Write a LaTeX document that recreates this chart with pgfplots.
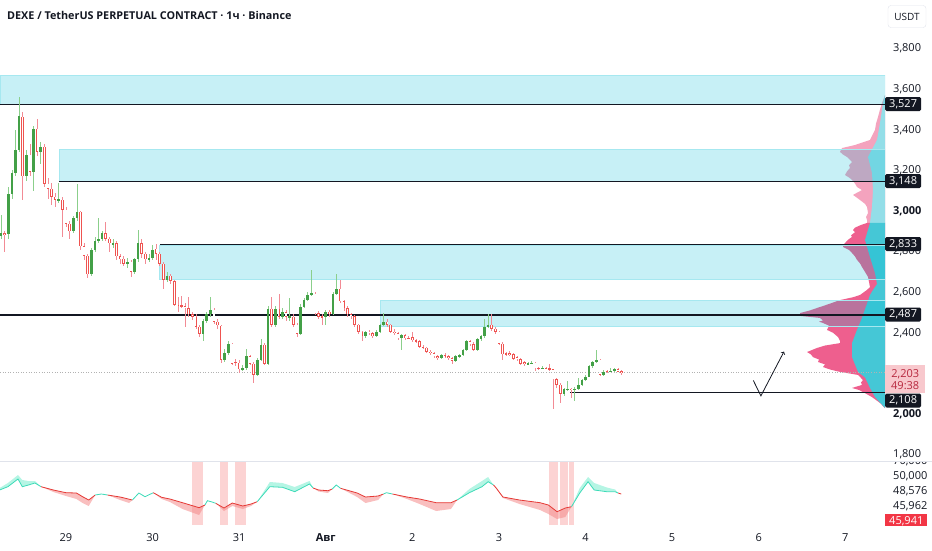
\documentclass[border=0pt]{standalone}
\usepackage{fontspec}
\setmainfont{Open Sans}
\usepackage{pgfplots}
\pgfplotsset{compat=1.18}
\usepackage{pgfplotstable}
\definecolor{tvtext}{HTML}{131722}
\definecolor{tvgreen}{HTML}{43A047}
\definecolor{tvgreenwick}{HTML}{8BCF8B}
\definecolor{tvred}{HTML}{EF5350}
\definecolor{tvredwick}{HTML}{F28B95}
\definecolor{boxcyan}{HTML}{00BCD4}
\definecolor{vpPink}{HTML}{EE5F8E}
\definecolor{vpPinkL}{HTML}{F4A3BE}
\definecolor{vpCyan}{HTML}{45C7D6}
\definecolor{vpCyanL}{HTML}{93DEE8}
\definecolor{indRed}{HTML}{E53935}
\definecolor{indRedFill}{HTML}{F48A8A}
\definecolor{indTeal}{HTML}{3DDBB8}
\definecolor{indTealFill}{HTML}{B5F5E4}
\definecolor{bandPink}{HTML}{FCD3D3}
\definecolor{curPink}{HTML}{F8C8CD}
\definecolor{curText}{HTML}{B7283E}
\definecolor{redlabel}{HTML}{F23645}
\definecolor{sepgray}{HTML}{E0E3EB}

\pgfplotstableread{
t o h l c
-18 2875 2980 2860 2890
-17 2892 2900 2800 2885
-16 2885 3120 2860 3085
-15 3085 3200 3060 3185
-14 3185 3400 3170 3302
-13 3302 3563 3290 3470
-12 3465 3490 3056 3170
-11 3170 3300 3150 3278
-10 3278 3330 3170 3194
-9 3194 3420 3096 3406
-8 3406 3455 3270 3293
-7 3293 3340 3230 3316
-6 3317 3330 3120 3135
-5 3135 3160 3060 3110
-4 3110 3140 3030 3071
-3 3071 3090 3020 3056
-2 3050 3140 3040 3060
-1 3056 3070 2874 3007
0 3007 3020 2920 2938
1 2938 2950 2860 2899
2 2899 2975 2890 2963
3 2963 3135 2950 2997
4 2997 3000 2810 2825
5 2825 2840 2760 2780
6 2780 2790 2670 2687
7 2687 2820 2680 2810
8 2810 2870 2800 2850
9 2850 2963 2840 2864
10 2864 2900 2850 2889
11 2889 2945 2850 2864
12 2864 2870 2800 2840
13 2835 2860 2820 2842
14 2840 2850 2760 2776
15 2776 2790 2740 2765
16 2765 2780 2730 2741
17 2741 2770 2720 2751
18 2751 2760 2675 2701
19 2701 2770 2690 2761
20 2761 2908 2750 2840
21 2840 2860 2770 2790
22 2790 2800 2740 2761
23 2761 2790 2750 2770
24 2770 2830 2760 2810
25 2815 2835 2760 2790
26 2790 2800 2730 2741
27 2741 2750 2618 2662
28 2662 2700 2650 2682
29 2682 2690 2640 2655
30 2655 2660 2530 2539
31 2539 2578 2500 2530
32 2535 2580 2520 2530
33 2530 2545 2430 2522
34 2522 2578 2480 2490
35 2490 2500 2465 2480
36 2480 2490 2420 2430
37 2430 2440 2380 2396
38 2396 2470 2360 2460
39 2460 2500 2450 2490
40 2490 2578 2480 2514
41 2514 2520 2445 2455
42 2455 2470 2420 2436
43 2435 2440 2250 2268
44 2268 2320 2255 2300
45 2300 2360 2290 2347
46 2347 2350 2240 2248
47 2258 2270 2235 2252
48 2252 2265 2200 2219
49 2219 2240 2210 2224
50 2224 2320 2215 2283
51 2283 2290 2240 2248
52 2248 2255 2150 2194
53 2194 2275 2185 2268
54 2268 2370 2260 2342
55 2342 2350 2240 2248
56 2248 2530 2240 2519
57 2519 2578 2430 2440
58 2440 2530 2430 2519
59 2519 2593 2470 2480
60 2480 2520 2470 2500
61 2500 2510 2460 2480
62 2475 2570 2460 2482
63 2480 2490 2430 2440
64 2440 2450 2380 2396
65 2396 2540 2390 2529
66 2529 2570 2520 2563
67 2563 2600 2555 2588
68 2588 2711 2580 2595
69 2593 2600 2485 2495
70 2495 2505 2470 2480
71 2482 2490 2440 2478
72 2478 2510 2440 2504
73 2504 2510 2480 2490
74 2490 2600 2485 2593
75 2593 2687 2585 2618
76 2618 2662 2545 2554
77 2554 2560 2505 2520
78 2520 2530 2480 2490
79 2490 2495 2470 2482
80 2482 2485 2430 2440
81 2440 2445 2395 2406
82 2406 2410 2360 2382
83 2382 2410 2375 2406
84 2406 2415 2390 2398
85 2398 2405 2375 2382
86 2382 2412 2378 2406
87 2406 2445 2400 2440
88 2440 2495 2435 2455
89 2455 2470 2430 2440
90 2440 2445 2400 2406
91 2406 2420 2390 2398
92 2398 2402 2365 2372
93 2372 2395 2317 2388
94 2388 2392 2365 2372
95 2375 2385 2368 2372
96 2378 2405 2355 2362
97 2362 2368 2350 2357
98 2360 2365 2325 2332
99 2332 2340 2318 2327
100 2327 2332 2300 2307
101 2307 2315 2292 2300
102 2300 2305 2278 2283
103 2283 2290 2265 2275
104 2275 2296 2270 2290
105 2290 2300 2278 2283
106 2283 2288 2268 2275
107 2275 2280 2245 2263
108 2263 2288 2258 2283
109 2283 2296 2278 2290
110 2290 2322 2285 2317
111 2317 2362 2310 2357
112 2357 2365 2335 2345
113 2345 2352 2310 2317
114 2317 2372 2312 2367
115 2367 2390 2360 2382
116 2382 2470 2375 2430
117 2430 2490 2425 2440
118 2440 2490 2410 2420
119 2420 2428 2395 2405
120 2405 2410 2340 2347
121 2347 2352 2268 2293
122 2298 2305 2285 2293
123 2298 2310 2285 2290
124 2293 2298 2265 2273
125 2280 2285 2262 2270
126 2270 2275 2242 2248
127 2255 2260 2238 2245
128 2245 2258 2240 2250
129 2250 2262 2245 2252
130 2252 2256 2210 2224
131 2228 2232 2218 2224
132 2224 2235 2220 2228
133 2228 2232 2220 2224
134 2224 2245 2214 2219
135 2219 2222 2022 2170
136 2170 2175 2130 2145
137 2145 2150 2052 2100
138 2100 2130 2090 2125
139 2122 2160 2115 2125
140 2125 2130 2080 2117
141 2117 2135 2065 2125
142 2125 2175 2120 2145
143 2145 2170 2140 2165
144 2165 2190 2160 2184
145 2184 2240 2180 2234
146 2234 2262 2228 2258
147 2258 2317 2252 2266
148 2268 2272 2185 2194
149 2194 2215 2188 2209
150 2212 2218 2200 2209
151 2209 2225 2205 2214
152 2214 2228 2208 2220
153 2220 2225 2205 2209
154 2212 2215 2194 2203
}\candles

\begin{document}
\begin{tikzpicture}[x=1pt,y=1pt]
\useasboundingbox (0pt,0pt) rectangle (932pt,-550pt);

% ---------- volume profile ----------
\begin{axis}[at={(0pt,-460pt)}, anchor=south west, scale only axis,
  width=885pt, height=460pt, xmin=0, xmax=885, x dir=reverse,
  ymin=1773, ymax=4039.4, hide axis]
\addplot[fill=vpPinkL, draw=none] coordinates {(0,3571)(3,3532)(5,3500)(7,3463)(9,3430)(10,3399)(13,3370)(15,3350)(30,3325)(43,3310)(45,3291)(42,3278)(38,3266)(35,3252)(33,3241)(36,3225)(35,3212)(38,3195)(40,3177)(36,3165)(33,3153)(30,3135)(28,3118)(23,3103)(28,3090)(32,3079)(28,3065)(25,3054)(20,3035)(18,3020)(17,2990)(19,2970)(18,2956)(18,2941)(0,2941)} -- cycle;
\addplot[fill=vpPink, draw=none] coordinates {(0,2941)(18,2941)(24,2931)(30,2918)(32,2906)(30,2895)(34,2880)(33,2872)(37,2858)(40,2842)(42,2830)(42,2823)(36,2808)(33,2793)(30,2776)(28,2759)(25,2742)(23,2724)(20,2700)(17,2675)(16,2650)(15,2625)(18,2611)(25,2586)(32,2575)(45,2561)(53,2547)(60,2535)(68,2522)(75,2510)(85,2497)(85,2483)(65,2473)(62,2460)(66,2455)(62,2448)(56,2435)(58,2414)(52,2400)(47,2379)(45,2360)(45,2349)(60,2337)(68,2325)(78,2305)(74,2293)(72,2280)(66,2268)(67,2256)(60,2244)(62,2231)(55,2219)(45,2207)(35,2199)(27,2192)(22,2167)(24,2155)(23,2143)(33,2128)(26,2118)(22,2108)(13,2083)(5,2054)(0,2029)} -- cycle;
\addplot[fill=vpCyanL, draw=none] coordinates {(0,3571)(2,3532)(5,3433)(8,3350)(17,3266)(13,3187)(12,3103)(13,3020)(15,2941)(0,2941)} -- cycle;
\addplot[fill=vpCyan, draw=none] coordinates {(0,2941)(15,2941)(20,2857)(15,2773)(10,2694)(8,2640)(12,2611)(15,2586)(23,2473)(28,2414)(33,2349)(33,2280)(27,2207)(20,2180)(15,2128)(10,2083)(2,2040)(0,2029)} -- cycle;
\end{axis}

% ---------- price pane ----------
\begin{axis}[at={(0pt,-460pt)}, anchor=south west, scale only axis,
  width=885pt, height=460pt, xmin=-18.29, xmax=227,
  ymin=1773, ymax=4039.4,
  axis line style={draw=none}, tick style={draw=none},
  xtick=\empty,
  ytick={1800,2000,...,3800},
  yticklabels={{1,800},{\bfseries 2,000},{2,200},{2,400},{2,600},{2,800},{\bfseries 3,000},{3,200},{3,400},{3,600},{3,800}},
  yticklabel pos=right,
  yticklabel style={anchor=west, inner sep=0pt, xshift=8pt, font=\fontsize{11}{13}\selectfont, text=tvtext}]
% zones
\addplot[draw=boxcyan!35, fill=boxcyan, fill opacity=0.22, line width=0.6pt] coordinates {(-18.29,3527) (227,3527) (227,3667) (-18.29,3667)} -- cycle;
\addplot[draw=boxcyan!35, fill=boxcyan, fill opacity=0.22, line width=0.6pt] coordinates {(-1.94,3148) (227,3148) (227,3302) (-1.94,3302)} -- cycle;
\addplot[draw=boxcyan!35, fill=boxcyan, fill opacity=0.22, line width=0.6pt] coordinates {(26,2662) (227,2662) (227,2833) (26,2833)} -- cycle;
\addplot[draw=boxcyan!35, fill=boxcyan, fill opacity=0.22, line width=0.6pt] coordinates {(87,2430) (227,2430) (227,2559) (87,2559)} -- cycle;
% levels
\addplot[tvtext, line width=0.8pt] coordinates {(-18.29,3527) (227,3527)};
\addplot[tvtext, line width=0.8pt] coordinates {(-1.94,3148) (227,3148)};
\addplot[tvtext, line width=0.8pt] coordinates {(26,2833) (227,2833)};
\addplot[tvtext, line width=1.2pt] coordinates {(-18.29,2487) (227,2487)};
\addplot[tvtext, line width=0.8pt] coordinates {(139.7,2108) (227,2108)};
\addplot[black!30, dotted, line width=0.6pt] coordinates {(-18.29,2203) (227,2203)};
% arrow
\addplot[tvtext, line width=0.8pt, ->] coordinates {(190.5,2165) (192.6,2089) (199.0,2307)};
% wicks
\addplot[draw=none, mark=none, error bars/.cd, y dir=both, y explicit, error mark=none,
  error bar style={draw=tvgreenwick, line width=0.6pt}]
  table[x=t, y expr={\thisrow{c}>=\thisrow{o} ? (\thisrow{h}+\thisrow{l})/2 : nan}, y error expr={(\thisrow{h}-\thisrow{l})/2}] {\candles};
\addplot[draw=none, mark=none, error bars/.cd, y dir=both, y explicit, error mark=none,
  error bar style={draw=tvredwick, line width=0.6pt}]
  table[x=t, y expr={\thisrow{c}<\thisrow{o} ? (\thisrow{h}+\thisrow{l})/2 : nan}, y error expr={(\thisrow{h}-\thisrow{l})/2}] {\candles};
% bodies
\addplot[draw=none, mark=none, error bars/.cd, y dir=both, y explicit, error mark=none,
  error bar style={draw=tvgreen, line width=2.6pt}]
  table[x=t, y expr={\thisrow{c}>=\thisrow{o} ? (\thisrow{o}+\thisrow{c})/2 : nan}, y error expr={max(abs(\thisrow{c}-\thisrow{o})/2,1.5)}] {\candles};
\addplot[draw=none, mark=none, error bars/.cd, y dir=both, y explicit, error mark=none,
  error bar style={draw=tvred, line width=2.6pt}]
  table[x=t, y expr={\thisrow{c}<\thisrow{o} ? (\thisrow{o}+\thisrow{c})/2 : nan}, y error expr={max(abs(\thisrow{c}-\thisrow{o})/2,1.5)}] {\candles};
\addplot[draw=none, mark=none, error bars/.cd, y dir=both, y explicit, error mark=none,
  error bar style={draw=white, line width=1.2pt}]
  table[x=t, y expr={\thisrow{c}<\thisrow{o} ? (\thisrow{o}+\thisrow{c})/2 : nan}, y error expr={max(abs(\thisrow{c}-\thisrow{o})/2-3.4,0)}] {\candles};
\end{axis}

% ---------- indicator pane ----------
\begin{axis}[at={(0pt,-525pt)}, anchor=south west, scale only axis,
  width=885pt, height=63pt, xmin=-18.29, xmax=227, ymin=0, ymax=63,
  axis line style={draw=none}, tick style={draw=none}, ytick=\empty,
  xtick={0,24,...,216},
  xticklabels={29,30,31,{\bfseries Авг},2,3,4,5,6,7},
  xticklabel style={anchor=base, inner sep=0pt, yshift=-16pt, font=\fontsize{11}{13}\selectfont, text=tvtext}]
\addplot[fill=bandPink, draw=none] coordinates {(34.8,0)(38.0,0)(38.0,63)(34.8,63)} -- cycle;
\addplot[fill=bandPink, draw=none] coordinates {(42.7,0)(44.8,0)(44.8,63)(42.7,63)} -- cycle;
\addplot[fill=bandPink, draw=none] coordinates {(46.8,0)(49.8,0)(49.8,63)(46.8,63)} -- cycle;
\addplot[fill=bandPink, draw=none] coordinates {(133.9,0)(136.5,0)(136.5,63)(133.9,63)} -- cycle;
\addplot[fill=bandPink, draw=none] coordinates {(136.8,0)(139.2,0)(139.2,63)(136.8,63)} -- cycle;
\addplot[fill=bandPink, draw=none] coordinates {(139.4,0)(140.8,0)(140.8,63)(139.4,63)} -- cycle;
% fills
\addplot[fill=indTealFill, draw=none] coordinates {(-18.4,35)(-16.1,38.3)(-13.3,46)(-12.1,38.3)(-10.4,40)(-8.6,42)(-6.9,38.3)(-8.6,44)(-10.4,44)(-12.1,45)(-13.3,50)(-16.1,42)(-18.4,37)} -- cycle;
\addplot[fill=indRedFill, fill opacity=0.55, draw=none] coordinates {(-6.9,38.3)(-3.5,35)(0,32.3)(2.9,32)(4.6,28.3)(6.3,25)(8.1,30)(6.3,19)(4.6,22)(2.9,26)(0,29)(-3.5,33)} -- cycle;
\addplot[fill=indRedFill, fill opacity=0.55, draw=none] coordinates {(11.5,30)(15,28)(18.4,25)(17.5,22)(15,25)} -- cycle;
\addplot[fill=indRedFill, fill opacity=0.55, draw=none] coordinates {(24.2,32.3)(26.5,27.7)(28.8,26)(32.3,22.3)(36.9,17.3)(38.5,20)(36.9,10)(32.3,16)(28.8,23)(26.5,26)} -- cycle;
\addplot[fill=indRedFill, fill opacity=0.55, draw=none] coordinates {(41.5,21.7)(43.8,17)(46.1,22)(49,19)(51.3,21)(53,23.3)(51.3,19)(49,16)(46.1,19)(43.8,14)} -- cycle;
\addplot[fill=indTealFill, draw=none] coordinates {(53,23.3)(56.5,38.3)(60,37.7)(63.4,33.3)(67.5,41)(68.5,37)(67.5,44)(63.4,38)(60,42)(56.5,43)} -- cycle;
\addplot[fill=indRedFill, fill opacity=0.55, draw=none] coordinates {(68.5,37)(70,35)(72.6,34.3)(73.8,36)(72.6,32)(70,33.5)} -- cycle;
\addplot[fill=indRedFill, fill opacity=0.55, draw=none] coordinates {(76.1,36.7)(80.7,32)(83,28)(86.5,29)(88,31)(86.5,25)(83,22)(80.7,28)} -- cycle;
\addplot[fill=indRedFill, fill opacity=0.55, draw=none] coordinates {(90.5,31)(94.5,28)(98,26)(102.6,22.3)(106.7,22.3)(108.4,25)(106.7,16)(102.6,14)(98,21)(94.5,26)} -- cycle;
\addplot[fill=indTealFill, draw=none] coordinates {(108.4,25)(111.8,32.3)(115.3,38.3)(117,43.3)(118.5,40)(117,48)(115.3,44)(111.8,36)} -- cycle;
\addplot[fill=indRedFill, fill opacity=0.55, draw=none] coordinates {(118.5,40)(119.3,36.7)(121.1,28)(125.7,25)(131.4,22.3)(133.7,20)(136.1,13.3)(138.4,17)(140.1,18.3)(138.4,8)(136.1,6)(133.7,11)(131.4,15)(125.7,21)(121.1,27)} -- cycle;
\addplot[fill=indTealFill, draw=none] coordinates {(140.1,18.3)(142.4,32)(144.7,43.3)(146.4,35)(149.9,33.3)(152.2,33.3)(153,32)(152.2,35.5)(149.9,37.5)(146.4,42)(144.7,48)(142.4,37)} -- cycle;
% lines
\addplot[indTeal, line width=0.8pt] coordinates {(-18.4,35)(-16.1,38.3)(-13.3,46)(-12.1,38.3)(-10.4,40)(-8.6,42)(-6.9,38.3)};
\addplot[indRed, line width=0.8pt] coordinates {(-6.9,38.3)(-3.5,35)(0,32.3)(2.9,32)(4.6,28.3)(6.3,25)(8.1,30)};
\addplot[indTeal, line width=0.8pt] coordinates {(8.1,30)(9.8,31)(11.5,30)};
\addplot[indRed, line width=0.8pt] coordinates {(11.5,30)(15,28)(18.4,25)};
\addplot[indTeal, line width=0.8pt] coordinates {(18.4,25)(20.2,32)(21.9,28.3)(24.2,32.3)};
\addplot[indRed, line width=0.8pt] coordinates {(24.2,32.3)(26.5,27.7)(28.8,26)(32.3,22.3)(36.9,17.3)(38.5,20)};
\addplot[indTeal, line width=0.8pt] coordinates {(38.5,20)(39.2,24.3)(40.5,23)(41.5,21.7)};
\addplot[indRed, line width=0.8pt] coordinates {(41.5,21.7)(43.8,17)(46.1,22)(49,19)(51.3,21)(53,23.3)};
\addplot[indTeal, line width=0.8pt] coordinates {(53,23.3)(56.5,38.3)(60,37.7)(63.4,33.3)(67.5,41)(68.5,37)};
\addplot[indRed, line width=0.8pt] coordinates {(68.5,37)(70,35)(72.6,34.3)(73.8,36)};
\addplot[indTeal, line width=0.8pt] coordinates {(73.8,36)(74.9,40)(76.1,36.7)};
\addplot[indRed, line width=0.8pt] coordinates {(76.1,36.7)(80.7,32)(83,28)(86.5,29)(88,31)};
\addplot[indTeal, line width=0.8pt] coordinates {(88,31)(88.8,32.3)(90.5,31)};
\addplot[indRed, line width=0.8pt] coordinates {(90.5,31)(94.5,28)(98,26)(102.6,22.3)(106.7,22.3)(108.4,25)};
\addplot[indTeal, line width=0.8pt] coordinates {(108.4,25)(111.8,32.3)(115.3,38.3)(117,43.3)(118.5,40)};
\addplot[indRed, line width=0.8pt] coordinates {(118.5,40)(119.3,36.7)(121.1,28)(125.7,25)(131.4,22.3)(133.7,20)(136.1,13.3)(138.4,17)(140.1,18.3)};
\addplot[indTeal, line width=0.8pt] coordinates {(140.1,18.3)(142.4,32)(144.7,43.3)(146.4,35)(149.9,33.3)(152.2,33.3)(153,32)};
\addplot[indRed, line width=0.8pt] coordinates {(153,32)(153.9,31)};
\end{axis}

% separator
\draw[sepgray, line width=0.8pt] (0pt,-461.5pt) -- (932pt,-461.5pt);

% title & currency
\node[anchor=west, inner sep=0pt, font=\bfseries\fontsize{10.8}{13}\selectfont, text=tvtext] at (7pt,-15pt) {DEXE / TetherUS PERPETUAL CONTRACT · 1ч · Binance};
\node[draw=sepgray, rounded corners=3pt, minimum width=38pt, minimum height=22pt, inner sep=0pt, font=\fontsize{10}{12}\selectfont, text=tvtext] at (907pt,-16.5pt) {USDT};

% price labels
\tikzset{plab/.style={fill=tvtext, text=white, rounded corners=1.5pt, anchor=west, inner xsep=4pt, inner ysep=0pt, minimum height=14pt, font=\fontsize{11}{13}\selectfont}}
\node[plab] at (885pt,-104pt) {3,527};
\node[plab] at (885pt,-181pt) {3,148};
\node[plab] at (885pt,-244pt) {2,833};
\node[plab] at (885pt,-314.5pt) {2,487};
\node[fill=curPink, text=curText, anchor=north west, minimum width=40pt, minimum height=28pt, inner sep=0pt, align=center, font=\fontsize{11}{13}\selectfont] at (885pt,-365pt) {2,203\\[-1pt]49:38};
\node[plab] at (885pt,-400.5pt) {2,108};

% indicator labels
\begin{scope}
\clip (880pt,-462.3pt) rectangle (932pt,-525pt);
\node[anchor=west, inner sep=0pt, font=\fontsize{11}{13}\selectfont, text=tvtext] at (893pt,-461pt) {70,000};
\node[anchor=west, inner sep=0pt, font=\fontsize{11}{13}\selectfont, text=tvtext] at (893pt,-476pt) {50,000};
\node[anchor=west, inner sep=0pt, font=\fontsize{11}{13}\selectfont, text=tvtext] at (893pt,-491pt) {48,576};
\node[anchor=west, inner sep=0pt, font=\fontsize{11}{13}\selectfont, text=tvtext] at (893pt,-506pt) {45,962};
\node[fill=redlabel, text=white, anchor=west, inner xsep=4pt, inner ysep=0pt, minimum height=14pt, font=\fontsize{11}{13}\selectfont] at (885pt,-521pt) {45,941};
\end{scope}
\end{tikzpicture}
\end{document}
